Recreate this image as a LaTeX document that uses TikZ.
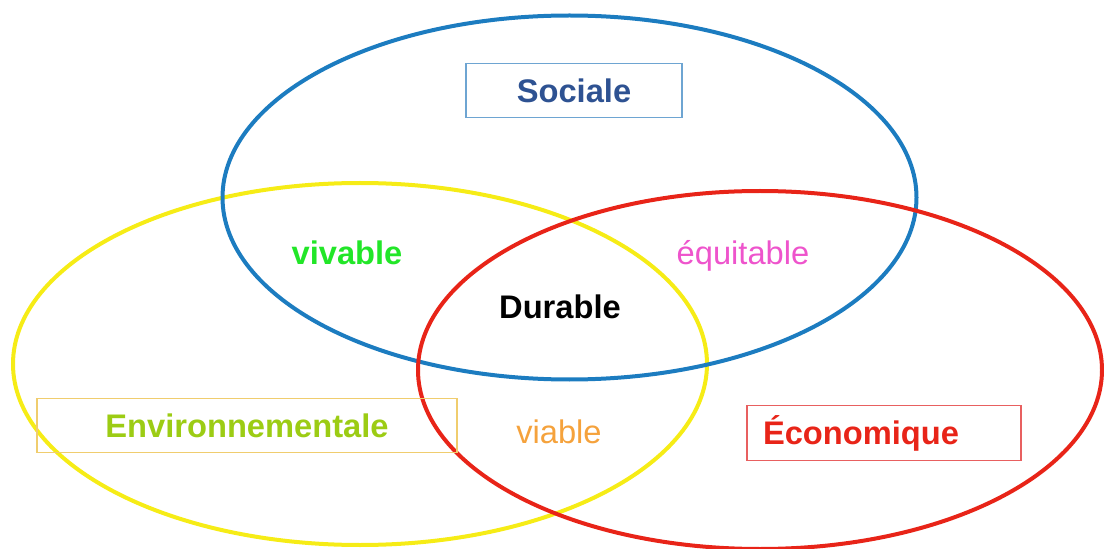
\documentclass[tikz,border=0pt]{standalone}
\usepackage{fontspec}
\setmainfont{Liberation Sans}

\definecolor{socblue}{RGB}{28,124,192}
\definecolor{envyellow}{RGB}{246,236,22}
\definecolor{ecored}{RGB}{232,36,24}
\definecolor{socbox}{RGB}{110,165,210}
\definecolor{soctext}{RGB}{46,82,146}
\definecolor{envbox}{RGB}{240,205,110}
\definecolor{envtext}{RGB}{156,204,20}
\definecolor{ecobox}{RGB}{232,96,96}
\definecolor{vivgreen}{RGB}{34,230,40}
\definecolor{equipink}{RGB}{238,84,204}
\definecolor{viaorange}{RGB}{245,162,60}

\begin{document}
\begin{tikzpicture}[x=0.75pt,y=0.75pt,yscale=-1,xscale=1,
	ring/.style={line width=3pt},
	lbl/.style={font=\fontsize{24.5}{29}\selectfont, text height=17.5pt, text depth=0pt, inner sep=0pt},
	titlebox/.style={lbl, draw, line width=0.9pt, minimum height=41pt}]
	%uncomment if require: \path (0,549);
	\useasboundingbox (0,0) rectangle (1104,549);
	
	%Shape: Ellipse [Environnementale]
	\draw [ring, envyellow] (360,364) ellipse [x radius=347, y radius=181];
	%Shape: Ellipse [Sociale]
	\draw [ring, socblue] (569.5,197.5) ellipse [x radius=347, y radius=182];
	%Shape: Ellipse [Economique]
	\draw [ring, ecored] (760,370) ellipse [x radius=342, y radius=179];
	
	% Text Node
	\node [titlebox, draw=socbox, text=soctext, minimum width=162pt] (sociale) at (574,90.5) {\bfseries Sociale};
	% Text Node
	\node [titlebox, draw=envbox, text=envtext, minimum width=315pt] (environ) at (247,425.5) {\bfseries Environnementale};
	% Text Node
	\node [titlebox, draw=ecobox, text=ecored, text width=181.5pt, inner xsep=12pt, align=left] (econom) at (884,433) {\bfseries Économique};
	
	% Text Node
	\node [lbl, text=vivgreen] (vivable) at (347,253) {\bfseries vivable};
	% Text Node
	\node [lbl, text=equipink] (equitable) at (743,253) {équitable};
	% Text Node
	\node [lbl] (durable) at (560,307) {\bfseries Durable};
	% Text Node
	\node [lbl, text=viaorange] (viable) at (559,432) {viable};
\end{tikzpicture}
\end{document}
